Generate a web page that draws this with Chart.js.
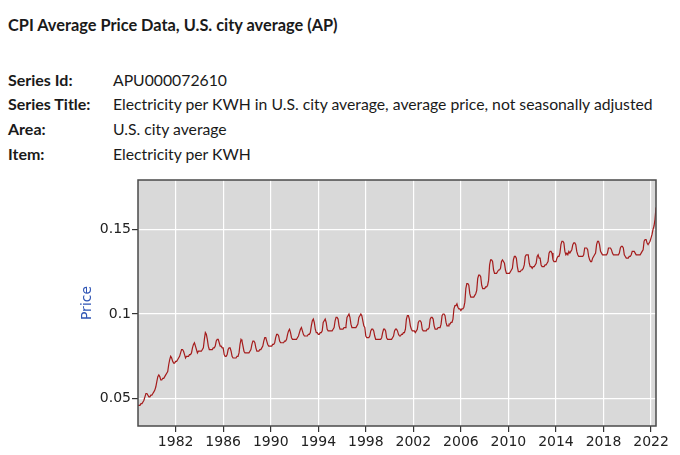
<!DOCTYPE html>
<html><head><meta charset="utf-8">
<script src="https://cdn.jsdelivr.net/npm/chart.js@4/dist/chart.umd.min.js"></script>
<style>
html,body{margin:0;padding:0;background:#fff;width:680px;height:455px;overflow:hidden}
.t{position:absolute;font-family:Lato,sans-serif;color:#1a1a1a;white-space:nowrap;line-height:20px}
#title{left:8px;top:15px;font-size:16.35px;font-weight:700}
.lab{left:8px;font-weight:700;font-size:16px}
.val{left:113px;font-size:15.75px}
#wrap{position:absolute;left:0;top:170px;width:680px;height:285px}
</style></head>
<body>
<div id="title" class="t">CPI Average Price Data, U.S. city average (AP)</div>
<div class="t lab" style="top:70px">Series Id:</div>
<div class="t val" style="top:70px">APU000072610</div>
<div class="t lab" style="top:94px">Series Title:</div>
<div class="t val" style="top:94px">Electricity per KWH in U.S. city average, average price, not seasonally adjusted</div>
<div class="t lab" style="top:119px">Area:</div>
<div class="t val" style="top:119px">U.S. city average</div>
<div class="t lab" style="top:144px">Item:</div>
<div class="t val" style="top:144px">Electricity per KWH</div>
<div id="wrap"><canvas id="c"></canvas></div>
<script>
// Monthly average price (USD per KWH), starting November 1978
const startYear = 1978, startMonth = 11;
const prices1978_79 = [.046,.046,
  .046,.047,.047,.048,.049,.051,.053,.053,.052,.051,.051,.052];
const prices1980s = [
  .052,.053,.054,.055,.057,.060,.063,.064,.063,.061,.061,.062,
  .062,.063,.064,.065,.066,.070,.073,.075,.074,.072,.071,.071,
  .072,.072,.073,.074,.075,.077,.079,.079,.078,.076,.074,.075,
  .075,.075,.076,.076,.077,.080,.082,.083,.081,.079,.077,.078,
  .078,.078,.078,.079,.080,.085,.089,.088,.085,.081,.079,.079,
  .079,.079,.080,.080,.081,.084,.085,.085,.083,.081,.081,.080,
  .080,.076,.075,.075,.076,.079,.080,.080,.078,.075,.074,.074,
  .074,.074,.075,.075,.077,.082,.085,.084,.081,.078,.077,.077,
  .077,.077,.077,.078,.079,.082,.084,.084,.083,.080,.078,.078,
  .078,.079,.079,.080,.081,.084,.086,.086,.084,.082,.081,.081];
const prices1990s = [
  .081,.081,.082,.082,.083,.086,.088,.088,.087,.084,.083,.083,
  .083,.083,.084,.084,.085,.088,.090,.091,.089,.086,.085,.085,
  .085,.085,.085,.086,.087,.089,.091,.092,.090,.088,.087,.087,
  .087,.087,.088,.088,.089,.093,.096,.097,.095,.091,.089,.089,
  .088,.088,.089,.089,.090,.095,.096,.097,.095,.091,.090,.090,
  .090,.090,.090,.091,.092,.096,.098,.098,.097,.093,.091,.091,
  .091,.091,.092,.092,.093,.098,.099,.100,.098,.094,.092,.092,
  .092,.092,.092,.093,.094,.098,.099,.100,.099,.096,.093,.092,
  .087,.086,.086,.086,.087,.090,.091,.091,.090,.087,.085,.085,
  .085,.085,.085,.085,.086,.089,.091,.091,.090,.086,.085,.085];
const prices2000s = [
  .085,.085,.085,.086,.087,.090,.091,.091,.090,.088,.087,.087,
  .088,.088,.089,.089,.091,.097,.099,.099,.097,.093,.091,.090,
  .090,.090,.089,.090,.091,.095,.096,.096,.095,.091,.090,.090,
  .090,.090,.091,.091,.092,.097,.098,.098,.097,.093,.091,.091,
  .091,.092,.092,.092,.094,.099,.100,.100,.099,.095,.093,.093,
  .094,.094,.095,.095,.097,.103,.105,.105,.106,.104,.103,.103,
  .102,.103,.103,.104,.107,.115,.118,.118,.117,.112,.110,.110,
  .110,.110,.111,.112,.114,.121,.123,.123,.122,.117,.115,.115,
  .115,.116,.116,.117,.120,.129,.132,.132,.131,.126,.124,.124,
  .124,.125,.126,.126,.127,.131,.132,.131,.130,.126,.124,.124];
const prices2010s = [
  .124,.124,.125,.126,.127,.132,.134,.134,.133,.128,.125,.125,
  .125,.126,.126,.127,.129,.134,.135,.135,.135,.130,.128,.128,
  .127,.128,.128,.129,.130,.134,.135,.133,.133,.129,.128,.128,
  .128,.129,.129,.130,.131,.136,.137,.137,.136,.132,.131,.131,
  .131,.133,.134,.134,.136,.141,.143,.143,.142,.137,.135,.136,
  .135,.137,.136,.137,.138,.141,.142,.142,.141,.137,.135,.134,
  .134,.134,.134,.134,.135,.139,.139,.139,.138,.134,.132,.131,
  .131,.133,.134,.135,.136,.141,.143,.143,.141,.137,.136,.135,
  .135,.135,.135,.135,.136,.139,.139,.139,.138,.136,.135,.135,
  .135,.135,.135,.135,.136,.139,.140,.140,.139,.135,.134,.133];
const prices2020s = [
  .133,.133,.134,.134,.135,.137,.137,.137,.136,.135,.135,.135,
  .135,.135,.136,.137,.138,.143,.144,.144,.142,.141,.142,.143,
  .145,.147,.150,.152,.156,.163];
const xTickYears = [1982,1986,1990,1994,1998,2002,2006,2010,2014,2018,2022];
const yTickValues = [0.05,0.1,0.15];
const yTickLabels = ['0.05','0.1','0.15'];

const allPrices = [].concat(prices1978_79, prices1980s, prices1990s, prices2000s, prices2010s, prices2020s);
const points = allPrices.map((v,i)=>({x: startYear + (startMonth-1+i)/12, y: v}));

const plotFrame = {
  id:'plotFrame',
  beforeDraw(chart){
    const {ctx, chartArea:a} = chart;
    ctx.save(); ctx.fillStyle='#d9d9d9';
    ctx.fillRect(a.left,a.top,a.right-a.left,a.bottom-a.top); ctx.restore();
  },
  afterDraw(chart){
    const {ctx, chartArea:a} = chart;
    ctx.save(); ctx.strokeStyle='#4a4a4a'; ctx.lineWidth=1.5;
    ctx.strokeRect(a.left,a.top,a.right-a.left,a.bottom-a.top); ctx.restore();
  }
};

new Chart(document.getElementById('c'), {
  type:'line',
  data:{datasets:[{data:points, borderColor:'#a51c1c', borderWidth:1.2, pointRadius:0, tension:0, fill:false}]},
  options:{
    responsive:true, maintainAspectRatio:false, animation:false,
    layout:{padding:{top:10,right:24,left:0,bottom:0}},
    plugins:{legend:{display:false}, tooltip:{enabled:false}},
    scales:{
      x:{type:'linear', min:points[0].x, max:points[points.length-1].x,
        afterBuildTicks(s){ s.ticks = xTickYears.map(v=>({value:v})); },
        afterFit(s){ s.height = 29; },
        grid:{color:'#ffffff', lineWidth:1.2, tickColor:'#333', tickLength:6, drawOnChartArea:true},
        border:{display:false},
        ticks:{color:'#222', font:{family:'DejaVu Sans', size:14}, padding:2, maxRotation:0, autoSkip:false,
          callback:(v)=>String(v)}
      },
      y:{type:'linear', min:0.0338, max:0.1792,
        afterBuildTicks(s){ s.ticks = yTickValues.map(v=>({value:v})); },
        afterFit(s){ s.width = 138; },
        grid:{color:'#ffffff', lineWidth:1.2, tickColor:'#333', tickLength:6},
        border:{display:false},
        ticks:{color:'#222', font:{family:'DejaVu Sans', size:14}, padding:1,
          callback:(v)=>{ const i = yTickValues.indexOf(v); return i>=0 ? yTickLabels[i] : ''; }},
        title:{display:true, text:'Price', color:'#2f55b5', font:{family:'DejaVu Sans', size:14}, padding:{top:78.5,bottom:0}}
      }
    }
  },
  plugins:[plotFrame]
});
</script>
</body></html>
